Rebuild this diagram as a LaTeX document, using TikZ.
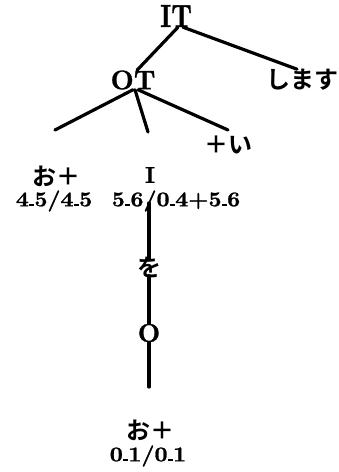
\documentclass[tikz,border=0pt]{standalone}
\usepackage{fontspec}
\newfontfamily\jp{Noto Sans CJK JP Bold}
\newfontfamily\romb{lmroman10-bold.otf}[FakeBold=1]
\newfontfamily\romw{lmroman10-bold.otf}[FakeStretch=1.08, FakeBold=1.2]
\newfontfamily\romn{lmroman10-bold.otf}[FakeStretch=0.8, FakeBold=1]
\usepackage{tikz}
\usetikzlibrary{positioning}

% short low bar between the digits
\newcommand{\lowbar}{\kern0.3pt\rule{5pt}{2pt}\kern0.3pt}

\begin{document}
\begin{tikzpicture}[
    x=1pt, y=-1pt,
    big/.style={inner sep=0pt, font=\romn\fontsize{32}{32}\selectfont},
    mid/.style={inner sep=0pt, font=\romb\fontsize{27}{27}\selectfont},
    lbl/.style={inner sep=0pt, font=\romw\fontsize{21}{21}\selectfont},
    kana/.style={inner sep=0pt, font=\jp\fontsize{24}{24}\selectfont},
    branch/.style={line width=3.2pt, line cap=round}
]
\useasboundingbox (0,0) rectangle (339,472);

% Upper tree
\node[big] (it) at (176,16) {IT};
\node[mid] (ot) at (133,80) {OT};
\node[kana] (shimasu) at (302,80) {します};

% Leaves under OT
\node[kana] (plusi) at (228,145) {＋い};
\node[kana] (oplusA) at (56,176) {お＋};
\node[lbl] (numA) at (54,201) {4\lowbar5/4\lowbar5};
\node[mid, font=\romb\fontsize{23}{23}\selectfont] (inode) at (150,175) {I};
\node[lbl] (numI) at (176,201) {5\lowbar6/0\lowbar4+5\lowbar6};

% Vertical chain
\node[kana] (wo) at (149,267) {を};
\node[mid, font=\romb\fontsize{26}{26}\selectfont] (onode) at (149,333) {O};
\node[kana] (oplusB) at (150,430) {お＋};
\node[lbl] (numB) at (148,456) {0\lowbar1/0\lowbar1};

% Free ends of the branches
\coordinate (endL) at (55,130);
\coordinate (endM) at (148,132);
\coordinate (endR) at (228,130);
\coordinate (slash) at (149,203);
\coordinate (endB) at (149,387);

% Branches
\draw[branch] ([xshift=2pt]it.south) -- ([xshift=4pt]ot.north);
\draw[branch] ([xshift=7pt]it.south) -- ([xshift=-5pt]shimasu.north);
\draw[branch] (ot.south) -- (endL);
\draw[branch] ([xshift=2pt]ot.south) -- (endM);
\draw[branch] ([xshift=5pt]ot.south) -- (endR);
\draw[branch] (slash) -- ([yshift=-3pt]wo.north);
\draw[branch] ([yshift=2pt]wo.south) -- (onode.north);
\draw[branch] (onode.south) -- (endB);

\end{tikzpicture}
\end{document}
